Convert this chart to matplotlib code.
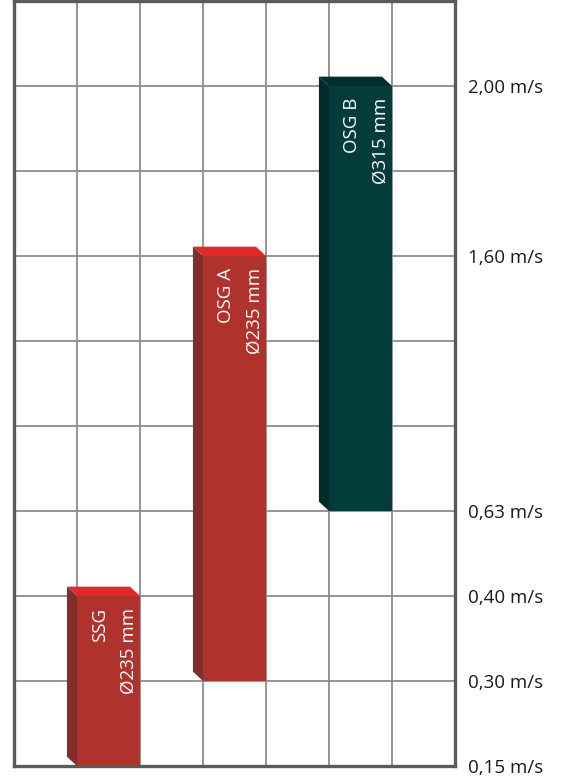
import matplotlib.pyplot as plt
from matplotlib.patches import Polygon, Rectangle

# speed levels shown on the right axis (equally spaced, not linear)
speed_labels = ['0,15 m/s', '0,30 m/s', '0,40 m/s', '0,63 m/s', '1,60 m/s', '2,00 m/s']
speed_levels = [0, 1, 2, 3, 6, 8]
n_levels = 9
n_cols = 7

# bars: model, diameter, min speed, max speed, column
models = ['SSG', 'OSG A', 'OSG B']
diameters = ['Ø235 mm', 'Ø235 mm', 'Ø315 mm']
speed_min = ['0,15 m/s', '0,30 m/s', '0,63 m/s']
speed_max = ['0,40 m/s', '1,60 m/s', '2,00 m/s']
columns = [1, 3, 5]

red = ('#B0322C', '#832D2A', '#E2282B')      # front, side, top
green = ('#033C3A', '#012B29', '#022F2D')
colors = [red, red, green]

plt.rcParams['font.family'] = ['Open Sans', 'DejaVu Sans']

fig = plt.figure(figsize=(5.61, 7.83), dpi=100)
ax = fig.add_axes([14 / 561, 17 / 783, 441 / 561, 765 / 783])
ax.set_xlim(0, n_cols)
ax.set_ylim(0, n_levels)

# grid lines on every column and level
for x in range(1, n_cols):
    ax.axvline(x, color='#8c8c8c', lw=1.3, zorder=1)
for y in range(1, n_levels):
    ax.axhline(y, color='#8c8c8c', lw=1.3, zorder=1)

ax.set_xticks([])
ax.set_yticks(speed_levels)
ax.set_yticklabels(speed_labels, fontsize=13.5, color='#1a1a1a')
ax.yaxis.tick_right()
ax.tick_params(axis='y', length=0, pad=9)
for s in ax.spines.values():
    s.set_color('#5a5a5a')
    s.set_linewidth(2.4)

dx, dy = 0.16, 0.11
for i in range(len(models)):
    x0 = columns[i]
    y0 = speed_levels[speed_labels.index(speed_min[i])]
    y1 = speed_levels[speed_labels.index(speed_max[i])]
    front, side, top = colors[i]
    ax.add_patch(Polygon([(x0, y0), (x0 - dx, y0 + dy), (x0 - dx, y1 + dy), (x0, y1)],
                         closed=True, fc=side, ec='none', zorder=3))
    ax.add_patch(Polygon([(x0, y1), (x0 - dx, y1 + dy), (x0 + 1 - dx, y1 + dy), (x0 + 1, y1)],
                         closed=True, fc=top, ec='none', zorder=3))
    ax.add_patch(Rectangle((x0, y0), 1, y1 - y0, fc=front, ec='none', zorder=4))
    ax.text(x0 + 0.23, y1 - 0.14, models[i] + '\n' + diameters[i], rotation=90,
            rotation_mode='anchor', ha='right', va='top', multialignment='right',
            color='white', fontsize=13.5, linespacing=1.75, zorder=5)

fig.savefig('out.png', dpi=100)
